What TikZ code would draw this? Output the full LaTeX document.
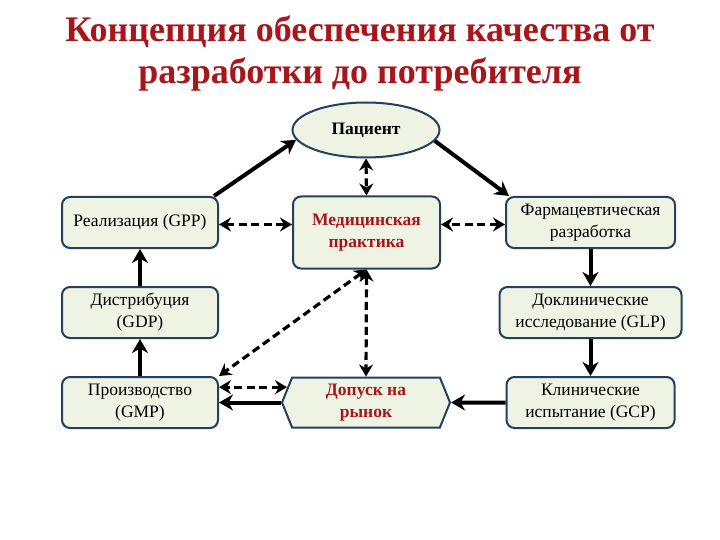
\documentclass[tikz,border=0pt]{standalone}
\usepackage{fontspec}
\setmainfont{Liberation Serif}
\usepackage{tikz}
\usetikzlibrary{positioning,shapes.geometric,shapes.symbols,arrows.meta}
\definecolor{boxfill}{HTML}{EEF3E4}
\definecolor{boxline}{HTML}{24405F}
\definecolor{darkred}{HTML}{A8161B}

\begin{document}
\begin{tikzpicture}[x=1pt, y=-1pt, node distance=90pt,
	main node/.style={rectangle,rounded corners=8pt,draw=boxline,line width=2pt,fill=boxfill,
		align=center,inner sep=2pt,minimum width=156pt,minimum height=51pt,
		font=\fontsize{17.5}{22}\selectfont},
	patient node/.style={ellipse,draw=boxline,line width=2pt,fill=boxfill,inner sep=0pt,
		minimum width=147pt,minimum height=55pt,font=\fontsize{17.5}{22}\selectfont\bfseries},
	market node/.style={signal,signal to=west and east,signal pointer angle=136,draw=boxline,
		line width=2pt,fill=boxfill,align=center,inner sep=0pt,minimum width=168pt,
		minimum height=50pt,text=darkred,font=\fontsize{17.5}{22}\selectfont\bfseries},
	flow/.style={draw,line width=4pt,-{Stealth[length=14pt,width=16pt,inset=4.5pt]}},
	link/.style={draw,line width=3.2pt,dash pattern=on 8pt off 4.5pt,
		{Stealth[length=12pt,width=14pt,inset=4pt]}-{Stealth[length=12pt,width=14pt,inset=4pt]}}]
	\useasboundingbox (0,0) rectangle (720,540);
	
	\node[text=darkred,align=center,font=\fontsize{36}{42}\selectfont\bfseries] (t) at (360,53)
		{Концепция обеспечения качества от\\разработки до потребителя};
	
	\node[patient node] (2) at (366,130) {Пациент};
	\node[main node] (1) at (140,222.5) {Реализация (GPP)};
	\node[main node,minimum width=147pt,minimum height=72pt,text=darkred,
		font=\fontsize{17.5}{22}\selectfont\bfseries] (3) at (366.5,232.5) {Медицинская\\практика};
	\node[main node,minimum width=169pt] (4) at (590.5,222.5) {Фармацевтическая\\разработка};
	\node[main node] (5) [below of=1] {Дистрибуция\\(GDP)};
	\node[main node] (7) [below of=5] {Производство\\(GMP)};
	\node[main node,minimum width=182pt] (6) [below of=4] {Доклинические\\исследование (GLP)};
	\node[main node,minimum width=168pt] (9) [below of=6] {Клинические\\испытание (GCP)};
	\node[market node] (8) at (366,402.5) {Допуск на\\рынок};
	
	% solid arrows
	\path
	([xshift=-5pt]1.north east) edge[flow] (2.188)
	(2.351.5) edge[flow] ([xshift=4pt]4.north west)
	(5) edge[flow] (1)
	(7) edge[flow] (5)
	(4) edge[flow] (6)
	(6) edge[flow] (9)
	(9) edge[flow] (8)
	(8.west) edge[flow] (7.east);
	
	% dashed links
	\path
	(2.south) edge[link] (3.north)
	([yshift=-2pt]1.east) edge[link] ([yshift=-2pt]1.east -| 3.west)
	([yshift=-2pt]4.west) edge[link] ([yshift=-2pt]4.west -| 3.east)
	(3.south) edge[link] (8.north)
	(3.south) edge[link] (7.north east)
	(8.169) edge[link] (8.169 -| 7.east);
\end{tikzpicture}
\end{document}
